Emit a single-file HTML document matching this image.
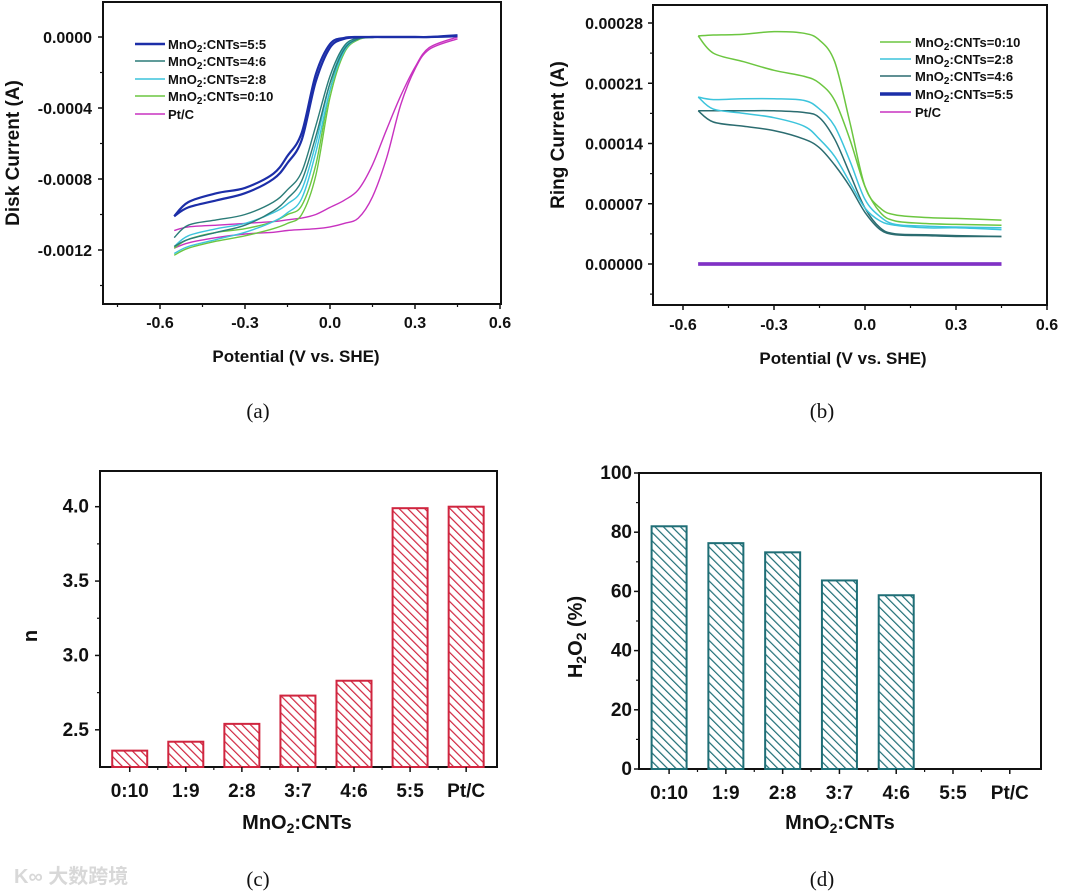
<!DOCTYPE html>
<html><head><meta charset="utf-8"><style>
html,body{margin:0;padding:0;background:#fff;}
svg{display:block;font-family:"Liberation Sans",Arial,sans-serif;}
.tk{font-weight:bold;font-size:16px;fill:#111;}
.tk2{font-weight:bold;font-size:19px;fill:#111;}
.ti{font-weight:bold;font-size:17px;fill:#111;}
.lg{font-weight:bold;font-size:13px;fill:#111;}
.cap{font-family:"Liberation Serif",serif;font-size:21px;fill:#111;}
</style></head><body>
<svg id="fig" width="1080" height="893" viewBox="0 0 1080 893" xmlns="http://www.w3.org/2000/svg">
<defs>
<pattern id="hatchRed" patternUnits="userSpaceOnUse" width="6" height="6" patternTransform="rotate(-45)">
<rect width="6" height="6" fill="#fff"/><line x1="0" y1="0" x2="0" y2="6" stroke="#d0253f" stroke-width="2.4"/></pattern>
<pattern id="hatchTeal" patternUnits="userSpaceOnUse" width="6" height="6" patternTransform="rotate(-45)">
<rect width="6" height="6" fill="#fff"/><line x1="0" y1="0" x2="0" y2="6" stroke="#1f6e76" stroke-width="2.4"/></pattern>
</defs>
<g id="root"></g>
<text class="cap" x="258" y="418" text-anchor="middle">(a)</text>
<text class="cap" x="822" y="418" text-anchor="middle">(b)</text>
<text class="cap" x="258" y="886" text-anchor="middle">(c)</text>
<text class="cap" x="822" y="886" text-anchor="middle">(d)</text>
<text x="14" y="883" font-size="20" fill="#d8d8d8" font-weight="bold" font-family="Liberation Sans, Noto Sans CJK SC, sans-serif">K∞ 大数跨境</text>
</svg>
<script>
// ---------- data: panel (a) disk current ----------
const potA = [-0.55,-0.5,-0.4,-0.3,-0.2,-0.15,-0.1,-0.05,0,0.05,0.1,0.15,0.2,0.25,0.3,0.35,0.45];
const a55Up = [-10.1,-9.3,-8.8,-8.5,-7.7,-6.7,-5.4,-2.1,-0.4,-0.05,0,0,0,0,0,0,0.1];
const a55Dn = [-10.1,-9.6,-9.2,-8.8,-8.0,-7.1,-5.8,-2.5,-0.6,-0.1,-0.02,0,0,0,0,0,0.05];
const a46Up = [-11.3,-10.6,-10.3,-10.0,-9.3,-8.6,-7.6,-5.0,-2.2,-0.5,-0.05,0,0,0,0,0,0.1];
const a46Dn = [-11.8,-11.4,-11.0,-10.6,-9.8,-9.1,-8.1,-5.6,-2.6,-0.7,-0.1,-0.02,0,0,0,0,0.05];
const a28Up = [-11.8,-11.2,-10.8,-10.5,-9.9,-9.4,-8.6,-6.0,-2.6,-0.6,-0.05,0,0,0,0,0,0.1];
const a28Dn = [-12.2,-11.8,-11.4,-11.0,-10.4,-9.9,-9.1,-6.5,-3.0,-0.8,-0.1,-0.02,0,0,0,0,0.05];
const a010Up = [-11.9,-11.4,-11.0,-10.8,-10.4,-10.0,-9.5,-7.2,-3.0,-0.7,-0.1,0,0,0,0,0,0.1];
const a010Dn = [-12.3,-11.9,-11.5,-11.2,-10.8,-10.5,-10.0,-7.8,-3.4,-0.9,-0.15,-0.02,0,0,0,0,0.05];
const aPtUp = [-10.9,-10.7,-10.6,-10.5,-10.4,-10.3,-10.2,-10.0,-9.6,-9.2,-8.6,-7.2,-5.2,-3.3,-1.7,-0.6,0];
const aPtDn = [-11.9,-11.6,-11.3,-11.1,-11.0,-10.9,-10.85,-10.8,-10.7,-10.5,-10.2,-9.0,-6.8,-3.8,-1.8,-0.7,-0.1];
const aScale = 1e-4;
const aTicksY = [0,-0.0004,-0.0008,-0.0012];
const aTickLabelsY = ["0.0000","-0.0004","-0.0008","-0.0012"];
const xTicks = [-0.6,-0.3,0,0.3,0.6];
const xTickLabels = ["-0.6","-0.3","0.0","0.3","0.6"];
const aLegend = ["MnO2:CNTs=5:5","MnO2:CNTs=4:6","MnO2:CNTs=2:8","MnO2:CNTs=0:10","Pt/C"];

// ---------- data: panel (b) ring current ----------
const potB = [-0.55,-0.5,-0.4,-0.3,-0.2,-0.15,-0.1,-0.05,0,0.05,0.1,0.2,0.3,0.45];
const b010Up = [26.5,26.6,26.7,27.0,26.8,26.0,23.5,16.5,9.0,6.5,5.7,5.4,5.3,5.1];
const b010Dn = [26.5,24.5,23.5,22.5,21.8,21.0,19.0,14.5,9.0,6.0,5.0,4.7,4.6,4.5];
const b28Up = [19.4,19.1,19.2,19.2,19.0,18.0,16.0,12.0,7.5,5.5,4.6,4.4,4.3,4.2];
const b28Dn = [19.4,18.0,17.5,17.0,16.0,14.5,12.5,9.5,6.5,5.0,4.5,4.2,4.2,4.0];
const b46Up = [17.8,17.8,17.8,17.8,17.6,17.0,14.5,10.5,6.5,4.2,3.5,3.4,3.3,3.2];
const b46Dn = [17.8,16.5,16.0,15.5,14.5,13.5,11.5,9.0,6.0,4.0,3.4,3.3,3.2,3.2];
const b55 = [0,0,0,0,0,0,0,0,0,0,0,0,0,0];
const bPt = [0,0,0,0,0,0,0,0,0,0,0,0,0,0];
const bScale = 1e-5;
const bTicksY = [0.00028,0.00021,0.00014,0.00007,0];
const bTickLabelsY = ["0.00028","0.00021","0.00014","0.00007","0.00000"];
const bLegend = ["MnO2:CNTs=0:10","MnO2:CNTs=2:8","MnO2:CNTs=4:6","MnO2:CNTs=5:5","Pt/C"];

// ---------- data: panels (c),(d) ----------
const ratioCats = ["0:10","1:9","2:8","3:7","4:6","5:5","Pt/C"];
const nValues = [2.36,2.42,2.54,2.73,2.83,3.99,4.0];
const nTicks = [2.5,3.0,3.5,4.0];
const nTickLabels = ["2.5","3.0","3.5","4.0"];
const h2o2Values = [82,76.3,73.2,63.7,58.7,0,0];
const hTicks = [0,20,40,60,80,100];
const hTickLabels = ["0","20","40","60","80","100"];

const NS="http://www.w3.org/2000/svg";
const root=document.getElementById('root');
function mk(tag,attrs,parent){const e=document.createElementNS(NS,tag);for(const k in attrs)e.setAttribute(k,attrs[k]);(parent||root).appendChild(e);return e;}
function lin(d0,d1,r0,r1){return v=>r0+(v-d0)/(d1-d0)*(r1-r0);}
function smooth(pts){let d="M"+pts[0][0].toFixed(1)+","+pts[0][1].toFixed(1);
 for(let i=0;i<pts.length-1;i++){const p0=pts[Math.max(0,i-1)],p1=pts[i],p2=pts[i+1],p3=pts[Math.min(pts.length-1,i+2)];
 const c1=[p1[0]+(p2[0]-p0[0])/6,p1[1]+(p2[1]-p0[1])/6],c2=[p2[0]-(p3[0]-p1[0])/6,p2[1]-(p3[1]-p1[1])/6];
 d+=" C"+c1[0].toFixed(1)+","+c1[1].toFixed(1)+" "+c2[0].toFixed(1)+","+c2[1].toFixed(1)+" "+p2[0].toFixed(1)+","+p2[1].toFixed(1);}
 return d;}
function frame(x0,y0,x1,y1,name){const r=mk('rect',{x:x0,y:y0,width:x1-x0,height:y1-y0,fill:'none',stroke:'#111','stroke-width':2});
 
 }
function yAxis(ticks,labels,sy,x0,minorStep,yTop,yBot,lx,name,cls){
 const g=mk('g',{});
 
 
 ticks.forEach((t,i)=>{const y=sy(t);mk('line',{x1:x0-5,x2:x0,y1:y,y2:y,stroke:'#111','stroke-width':1.5},g);
  const tx=mk('text',{x:lx,y:y+6,'text-anchor':'end',class:cls||'tk'},g);tx.textContent=labels[i];
  
  });
 if(minorStep){for(let i=-20;i<=20;i++){const v=ticks[0]+minorStep*i;const y=sy(v);if(y>yTop+2&&y<yBot-2&&!ticks.some(t=>Math.abs(sy(t)-y)<1))mk('line',{x1:x0-3,x2:x0,y1:y,y2:y,stroke:'#111','stroke-width':1.2},g);}}
}
function xAxis(ticks,labels,sx,y0,minorStep,xl,xr,ly,name){
 const g=mk('g',{});
 
 
 ticks.forEach((t,i)=>{const x=sx(t);mk('line',{x1:x,x2:x,y1:y0,y2:y0+5,stroke:'#111','stroke-width':1.5},g);
  const tx=mk('text',{x:x,y:ly,'text-anchor':'middle',class:'tk'},g);tx.textContent=labels[i];
  
  });
 for(let i=-20;i<=20;i++){const v=ticks[0]+minorStep*i;const x=sx(v);if(x>xl+2&&x<xr-2&&!ticks.some(t=>Math.abs(sx(t)-x)<1))mk('line',{x1:x,x2:x,y1:y0,y2:y0+3,stroke:'#111','stroke-width':1.2},g);}
}
function title(x,y,txt,rot,name,size){const t=mk('text',{x:x,y:y,'text-anchor':'middle',class:'ti'});
 if(rot)t.setAttribute('transform','rotate(-90 '+x+' '+y+')');
 if(size)t.style.fontSize=size+'px';
 t.innerHTML=txt;
 
 return t;}
function curve(xs,ys,scale,sx,sy,color,w,name){const pts=xs.map((x,i)=>[sx(x),sy(ys[i]*scale)]);
 const p=mk('path',{d:smooth(pts),fill:'none',stroke:color,'stroke-width':w,'stroke-linejoin':'round'});
 
 return p;}
function legendRow(x1,x2,y,color,w,label,tx){const g=mk('g',{});
 
 
 mk('line',{x1:x1,x2:x2,y1:y,y2:y,stroke:color,'stroke-width':w},g);
 const t=mk('text',{x:tx,y:y+5,class:'lg'},g);
 t.innerHTML=label.replace('MnO2','MnO<tspan dy="3" style="font-size:10px">2</tspan><tspan dy="-3">')+(label.indexOf('MnO2')>=0?'</tspan>':'');}

// ===== Panel A =====
{const sx=lin(-0.6,0.6,160,500), sy=lin(0,-0.0012,37,250);
 frame(103,2,501,304,'panel-a-frame');
 yAxis(aTicksY,aTickLabelsY,sy,103,-0.0002,2,304,92,'panel-a-y-axis');
 xAxis(xTicks,xTickLabels,sx,304,0.15,103,501,328,'panel-a-x-axis');
 title(19,153,'Disk Current (A)',true,'panel-a-y-axis-title',19);
 title(296,362,'Potential (V vs. SHE)',false,'panel-a-x-axis-title');
 const cols=['#1c2ea8','#2b7c78','#3cc4dc','#6cc640','#c832c0'];
 const ser=[[a55Up,a55Dn],[a46Up,a46Dn],[a28Up,a28Dn],[a010Up,a010Dn],[aPtUp,aPtDn]];
 const names=['curve-5-5','curve-4-6','curve-2-8','curve-0-10','curve-pt-c'];
 [4,3,2,1,0].forEach(i=>{const w=i===0?2.2:1.4;curve(potA,ser[i][0],aScale,sx,sy,cols[i],w,names[i]+'-forward');curve(potA,ser[i][1],aScale,sx,sy,cols[i],w,names[i]+'-reverse');});
 const ly=[44,61,79,96,114];
 aLegend.forEach((l,i)=>legendRow(135,165,ly[i],cols[i],i===0?2.4:1.6,l,168));}

// ===== Panel B =====
{const sx=lin(-0.6,0.6,683,1047), sy=lin(0,0.00028,264,23);
 frame(653,5,1047,305,'panel-b-frame');
 yAxis(bTicksY,bTickLabelsY,sy,653,0.000035,5,305,643,'panel-b-y-axis');
 xAxis(xTicks,xTickLabels,sx,305,0.15,653,1047,330,'panel-b-x-axis');
 title(564,135,'Ring Current (A)',true,'panel-b-y-axis-title',19);
 title(843,364,'Potential (V vs. SHE)',false,'panel-b-x-axis-title');
 const cols=['#6cc640','#3cc4dc','#2b6c70','#1c2ea8','#c832c0'];
 curve(potB,b55,bScale,sx,sy,'#2a2ec0',3.5,'curve-5-5');
 curve(potB,bPt,bScale,sx,sy,'rgba(190,50,200,0.6)',3.5,'curve-pt-c');
 const ser=[[b46Up,b46Dn,2],[b28Up,b28Dn,1],[b010Up,b010Dn,0]];
 const names=['curve-4-6','curve-2-8','curve-0-10'];
 ser.forEach((s,k)=>{curve(potB,s[0],bScale,sx,sy,cols[s[2]],1.5,names[k]+'-forward');curve(potB,s[1],bScale,sx,sy,cols[s[2]],1.5,names[k]+'-reverse');});
 const ly=[42,59,76,94,112];
 bLegend.forEach((l,i)=>legendRow(880,911,ly[i],cols[i],i===3?3.5:1.6,l,915));}

// ===== Bar panels =====
function barPanel(x0,y0,x1,y1,dMin,dMax,ticks,labels,vals,minor,fill,stroke,lx,tag){
 const sy=lin(dMin,dMax,y1,y0);const step=(x1-x0)/7.08;const cx=i=>x0+step*(i+0.53);
 frame(x0,y0,x1,y1,'panel-'+tag+'-frame');
 vals.forEach((v,i)=>{if(v<=dMin)return;const y=sy(v);
  const r=mk('rect',{x:cx(i)-17.5,y:y,width:35,height:y1-y,fill:fill,stroke:stroke,'stroke-width':2});
  
  });
 yAxis(ticks,labels,sy,x0,(ticks[1]-ticks[0])/2,y0,y1,lx,'panel-'+tag+'-y-axis','tk2');
 const g=mk('g',{});
 
 
 ratioCats.forEach((c,i)=>{mk('line',{x1:cx(i),x2:cx(i),y1:y1,y2:y1+5,stroke:'#111','stroke-width':1.5},g);
  if(i<6)mk('line',{x1:cx(i)+step/2,x2:cx(i)+step/2,y1:y1,y2:y1+3,stroke:'#111','stroke-width':1.2},g);
  const t=mk('text',{x:cx(i),y:y1+30,'text-anchor':'middle',class:'tk2'},g);t.textContent=c;
  
  });
 return cx;}
barPanel(100,471,497,767,2.25,4.24,nTicks,nTickLabels,nValues,0.25,'url(#hatchRed)','#d0253f',89,'c');
title(297,829,'MnO<tspan dy="4" style="font-size:14px">2</tspan><tspan dy="-4">:CNTs</tspan>',false,'panel-c-x-axis-title',20);
title(37,636,'n',true,'panel-c-y-axis-title',20);
barPanel(639,473,1041,769,0,100,hTicks,hTickLabels,h2o2Values,10,'url(#hatchTeal)','#1f6e76',632,'d');
title(840,829,'MnO<tspan dy="4" style="font-size:14px">2</tspan><tspan dy="-4">:CNTs</tspan>',false,'panel-d-x-axis-title',20);
title(582,637,'H<tspan dy="4" style="font-size:14px">2</tspan><tspan dy="-4">O</tspan><tspan dy="4" style="font-size:14px">2</tspan><tspan dy="-4"> (%)</tspan>',true,'panel-d-y-axis-title',20);
</script>
</body></html>
